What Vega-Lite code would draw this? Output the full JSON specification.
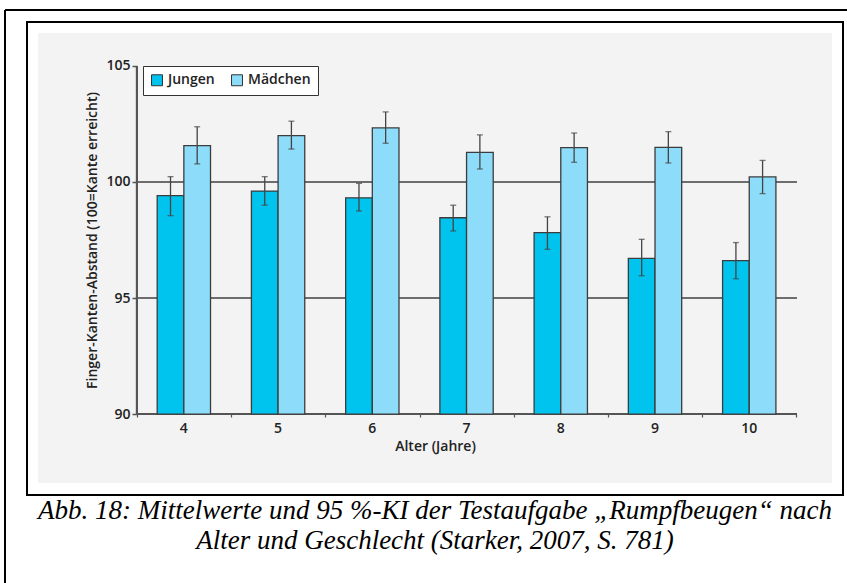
{
  "$schema": "https://vega.github.io/schema/vega-lite/v6.json",
  "autosize": {"type": "none"},
  "width": 794,
  "height": 450,
  "padding": {"left": 38, "top": 33, "right": 15, "bottom": 100},
  "background": "#ffffff",
  "title": {
    "text": ["Abb. 18: Mittelwerte und 95 %-KI der Testaufgabe „Rumpfbeugen“ nach", "Alter und Geschlecht (Starker, 2007, S. 781)"],
    "orient": "bottom",
    "anchor": "middle",
    "font": "Liberation Serif",
    "fontStyle": "italic",
    "fontWeight": "normal",
    "fontSize": 27,
    "lineHeight": 30,
    "color": "#000000",
    "offset": -86
  },
  "config": {
    "view": {"fill": "#f3f3f3", "stroke": null},
    "font": "Open Sans"
  },
  "data": {
    "values": [
      {"Alter": "4", "Geschlecht": "Jungen", "Mittelwert": 99.41, "KI_unten": 98.55, "KI_oben": 100.23},
      {"Alter": "4", "Geschlecht": "Mädchen", "Mittelwert": 101.57, "KI_unten": 100.78, "KI_oben": 102.38},
      {"Alter": "5", "Geschlecht": "Jungen", "Mittelwert": 99.61, "KI_unten": 99.0, "KI_oben": 100.23},
      {"Alter": "5", "Geschlecht": "Mädchen", "Mittelwert": 102.0, "KI_unten": 101.42, "KI_oben": 102.62},
      {"Alter": "6", "Geschlecht": "Jungen", "Mittelwert": 99.32, "KI_unten": 98.75, "KI_oben": 99.94},
      {"Alter": "6", "Geschlecht": "Mädchen", "Mittelwert": 102.33, "KI_unten": 101.67, "KI_oben": 103.02},
      {"Alter": "7", "Geschlecht": "Jungen", "Mittelwert": 98.46, "KI_unten": 97.89, "KI_oben": 99.0},
      {"Alter": "7", "Geschlecht": "Mädchen", "Mittelwert": 101.28, "KI_unten": 100.56, "KI_oben": 102.03},
      {"Alter": "8", "Geschlecht": "Jungen", "Mittelwert": 97.82, "KI_unten": 97.1, "KI_oben": 98.5},
      {"Alter": "8", "Geschlecht": "Mädchen", "Mittelwert": 101.48, "KI_unten": 100.85, "KI_oben": 102.11},
      {"Alter": "9", "Geschlecht": "Jungen", "Mittelwert": 96.71, "KI_unten": 95.96, "KI_oben": 97.53},
      {"Alter": "9", "Geschlecht": "Mädchen", "Mittelwert": 101.49, "KI_unten": 100.82, "KI_oben": 102.17},
      {"Alter": "10", "Geschlecht": "Jungen", "Mittelwert": 96.61, "KI_unten": 95.83, "KI_oben": 97.39},
      {"Alter": "10", "Geschlecht": "Mädchen", "Mittelwert": 100.22, "KI_unten": 99.5, "KI_oben": 100.93}
    ]
  },
  "resolve": {"scale": {"x": "independent"}, "axis": {"x": "independent"}},
  "layer": [
    {
      "layer": [
        {
          "mark": {"type": "rule", "color": "#6e6e6e", "strokeWidth": 1.4},
          "encoding": {
            "x": {"datum": 3.5, "type": "quantitative", "scale": {"domain": [2.449, 10.879], "nice": false, "zero": false},
              "axis": {"orient": "bottom", "offset": -69, "values": [3.5, 4.5, 5.5, 6.5, 7.5, 8.5, 9.5, 10.5], "labels": false, "domain": false, "grid": false, "ticks": true, "tickSize": 3, "tickColor": "#555555", "tickWidth": 1.2, "title": null}},
            "x2": {"datum": 10.5},
            "y": {"datum": 95, "type": "quantitative", "scale": {"domain": [87.03, 106.42], "nice": false, "zero": false}}
          }
        },
        {
          "mark": {"type": "rule", "color": "#6e6e6e", "strokeWidth": 1.4},
          "encoding": {
            "x": {"datum": 3.5, "type": "quantitative"},
            "x2": {"datum": 10.5},
            "y": {"datum": 100, "type": "quantitative"}
          }
        },
        {
          "mark": {"type": "rule", "color": "#555555", "strokeWidth": 2},
          "encoding": {
            "x": {"datum": 3.5, "type": "quantitative"},
            "x2": {"datum": 10.5},
            "y": {"datum": 90, "type": "quantitative"}
          }
        },
        {
          "mark": {"type": "rule", "color": "#555555", "strokeWidth": 2},
          "encoding": {
            "x": {"datum": 3.5, "type": "quantitative"},
            "y": {"datum": 90, "type": "quantitative"},
            "y2": {"datum": 105}
          }
        },
        {
          "mark": {"type": "rect", "fill": null, "fillOpacity": 0, "stroke": "#000000", "strokeWidth": 1.5, "clip": false},
          "encoding": {
            "x": {"datum": 2.333, "type": "quantitative"},
            "x2": {"datum": 10.996},
            "y": {"datum": 86.51, "type": "quantitative"},
            "y2": {"datum": 106.897}
          }
        },
        {
          "mark": {"type": "rule", "color": "#000000", "strokeWidth": 1.5, "clip": false},
          "encoding": {
            "x": {"datum": 2.1, "type": "quantitative"},
            "x2": {"datum": 11.1},
            "y": {"datum": 107.414, "type": "quantitative"}
          }
        },
        {
          "mark": {"type": "rule", "color": "#000000", "strokeWidth": 1.5, "clip": false},
          "encoding": {
            "x": {"datum": 2.1, "type": "quantitative"},
            "y": {"datum": 82.72, "type": "quantitative"},
            "y2": {"datum": 107.414}
          }
        }
      ]
    },
    {
      "layer": [
        {
          "mark": {"type": "bar", "stroke": "#3c3c3c", "strokeWidth": 1.3},
          "encoding": {
            "x": {"field": "Alter", "type": "nominal", "sort": ["4", "5", "6", "7", "8", "9", "10"],
              "scale": {"type": "band", "paddingInner": 0.434, "paddingOuter": 0.93, "align": 0.68},
              "axis": {"orient": "bottom", "offset": -69, "title": "Alter (Jahre)", "labelAngle": 0, "ticks": false, "domain": false, "grid": false,
                "labelFont": "Open Sans", "labelFontWeight": 600, "labelFontSize": 14, "labelColor": "#222222", "labelPadding": 7,
                "titleFont": "Open Sans", "titleFontWeight": 600, "titleFontSize": 14, "titleColor": "#222222", "titlePadding": 4}},
            "xOffset": {"field": "Geschlecht", "type": "nominal", "sort": ["Jungen", "Mädchen"], "scale": {"paddingInner": 0, "paddingOuter": 0}},
            "y": {"field": "Mittelwert", "type": "quantitative",
              "axis": {"orient": "left", "offset": -99, "values": [90, 95, 100, 105], "domain": false, "grid": false, "tickSize": 5, "tickColor": "#555555", "tickWidth": 1.5,
                "labelFont": "Open Sans", "labelFontWeight": 600, "labelFontSize": 14, "labelColor": "#222222", "labelPadding": 2,
                "title": "Finger-Kanten-Abstand (100=Kante erreicht)", "titleFont": "Open Sans", "titleFontWeight": 600, "titleFontSize": 14, "titleColor": "#222222", "titleY": 207, "titlePadding": 6}},
            "y2": {"datum": 90},
            "color": {"field": "Geschlecht", "type": "nominal", "sort": ["Jungen", "Mädchen"],
              "scale": {"domain": ["Jungen", "Mädchen"], "range": ["#00c3ee", "#8ddcf9"]},
              "legend": {"orient": "none", "legendX": 105, "legendY": 33, "direction": "horizontal", "title": null,
                "fillColor": "#ffffff", "strokeColor": "#333333", "padding": 7, "symbolType": "square", "symbolSize": 120,
                "symbolStrokeColor": "#333333", "symbolStrokeWidth": 1, "labelFont": "Open Sans", "labelFontWeight": 600, "labelFontSize": 14, "labelColor": "#222222", "columnPadding": 14, "labelOffset": 4}}
          }
        },
        {
          "mark": {"type": "rule", "color": "#444444", "strokeWidth": 1.3},
          "encoding": {
            "x": {"field": "Alter", "type": "nominal", "sort": ["4", "5", "6", "7", "8", "9", "10"]},
            "xOffset": {"field": "Geschlecht", "type": "nominal", "sort": ["Jungen", "Mädchen"]},
            "y": {"field": "KI_unten", "type": "quantitative"},
            "y2": {"field": "KI_oben"}
          }
        },
        {
          "mark": {"type": "tick", "color": "#444444", "thickness": 1.3, "size": 6},
          "encoding": {
            "x": {"field": "Alter", "type": "nominal", "sort": ["4", "5", "6", "7", "8", "9", "10"]},
            "xOffset": {"field": "Geschlecht", "type": "nominal", "sort": ["Jungen", "Mädchen"]},
            "y": {"field": "KI_unten", "type": "quantitative"}
          }
        },
        {
          "mark": {"type": "tick", "color": "#444444", "thickness": 1.3, "size": 6},
          "encoding": {
            "x": {"field": "Alter", "type": "nominal", "sort": ["4", "5", "6", "7", "8", "9", "10"]},
            "xOffset": {"field": "Geschlecht", "type": "nominal", "sort": ["Jungen", "Mädchen"]},
            "y": {"field": "KI_oben", "type": "quantitative"}
          }
        }
      ]
    }
  ]
}
